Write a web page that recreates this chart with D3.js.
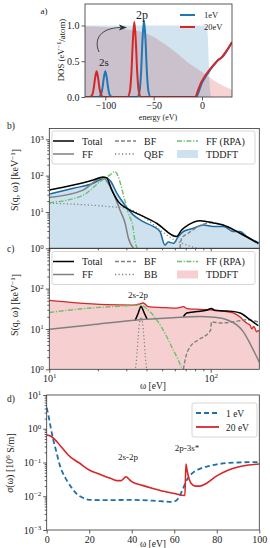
<!DOCTYPE html>
<html>
<head>
<meta charset="utf-8">
<script src="https://cdn.jsdelivr.net/npm/d3@7"></script>
<style>
  body { margin: 0; background: #fff; }
  svg { display: block; }
  text { font-family: "Liberation Serif", "DejaVu Serif", serif; fill: #222; }
</style>
</head>
<body>
<svg id="chart" width="270" height="548"></svg>
<script>
// ---------- panel a: DOS (energy eV, DOS) ----------
const dos1eV = [[-121,0],[-107,0],[-104.5,0.03],[-103,0.12],[-101.5,0.27],[-100,0.36],[-98.5,0.27],[-97,0.12],[-95.5,0.03],[-93,0],
  [-67,0],[-64.5,0.09],[-63,0.35],[-61.5,0.81],[-60,1.07],[-58.5,0.81],[-57,0.35],[-55.5,0.09],[-53,0],
  [-6,0],[-3,0.09],[0,0.2],[3,0.27],[6,0.33],[10,0.41],[14,0.48],[18,0.53],[21,0.56],[25,0.63],[28,0.7],[31,0.76]];
const dos20eV = [[-121,0],[-116,0],[-113.5,0.03],[-112,0.12],[-110.5,0.27],[-109,0.36],[-107.5,0.27],[-106,0.12],[-104.5,0.03],[-102,0],
  [-77,0],[-74.5,0.09],[-73,0.34],[-71.5,0.79],[-70,1.05],[-68.5,0.79],[-67,0.34],[-65.5,0.09],[-63,0],
  [-7,0],[-4,0.1],[-1,0.2],[2,0.27],[5,0.33],[9,0.4],[13,0.46],[17,0.52],[20,0.55],[24,0.62],[28,0.7],[31,0.77]];
const occ1eV = [[-121,1],[3,1],[5,0.97],[6,0.85],[7,0.5],[8,0.15],[9,0.03],[10,0],[31,0]];
const occ20eV = [[-121,0.99],[-100,0.98],[-75,0.94],[-60,0.9],[-50,0.84],[-37.5,0.73],[-25,0.6],[-12.5,0.46],[0,0.35],[15,0.21],[31,0.1]];
const aXTicks = [-100, -50, 0];
const aYTicks = [0, 0.5, 1.0];

// ---------- panel b: S(q,w) at 1 eV (omega eV, keV^-1) ----------
const bTotal = [[10,40],[14.1,55],[18.7,76],[21.5,92],[22.6,88],[24.4,40],[26.8,19],[30.2,12.6],[36.5,8.3],[46.2,4.9],[61.5,2.1],[66,3.2],[72.6,4.4],[86,5.75],[104,5],[126,4],[152,2.6],[197,1.37]];
const bTDDFT = [[10,31],[14.1,45],[18.7,62],[21,80],[22.5,88],[24,70],[26.2,33],[29.4,15.5],[33.1,8.3],[38.2,5.4],[44,4],[48.5,2.9],[52,1.23],[54.6,1.5],[58.6,1.37],[63,2.1],[67.7,2.9],[78,3.55],[90,4.4],[104,4],[120,4],[138,2.9],[152,2.9],[167,2.1],[193,1.5],[200,1.4]];
const bFF = [[10,25],[16.2,40],[20.6,85],[21.5,88],[23.8,50],[25.5,26],[27.4,11.3],[29.5,4.9],[30.9,1.9],[33.2,1]];
const bRPA = [[10,18],[16.2,29],[20.6,68],[23.8,105],[25.5,129],[27.4,68],[29,26],[30.9,9.2],[32.9,4],[34,1.5],[35.1,1]];
const bQBF = [[10,17.4],[16.2,15.9],[23.8,14],[30.2,12.6],[38.2,7.4],[48.5,3.2],[58.6,1.77],[71,1.23],[82,1]];
const bBF = [[64.5,1],[66,1.9],[72.6,2.6],[84,4],[99,5],[114,4.7],[138,3.2],[167,2.1],[197,1.3]];
const bYTicks = [1, 10, 100, 1000];

// ---------- panel c: S(q,w) at 20 eV ----------
const cTDDFT = [[10,51],[14.1,45],[22.7,40],[33,39],[36.5,42],[38.2,44],[41,36],[50,34],[58.6,33],[64,34],[67.7,36],[71,32],[80,31],[94,30],[105,29],[114,28],[125,27],[138,25],[152,19.7],[158,17],[163,15],[170,13.5],[175,12.6],[180,10],[184,11.5],[188,10.5],[192,8.5],[197,9.1],[200,8.8]];
const cTotalPeak = [[34,16],[35.6,25],[37,36],[38.7,25],[40.5,17]];
const cTotalHigh = [[67.7,20.4],[71,25],[82,27],[94,29],[101,32],[106,29],[126,28],[152,25],[175,17],[197,12]];
const cFF = [[10,9.9],[17.9,12.6],[36.5,17],[58.6,19],[86,20.4],[104,19.6],[126,17],[145,12.6],[159,8.6],[175,4.4],[188,2.5],[197,1.7],[200,1.5]];
const cRPA = [[10,25.6],[17.9,33],[28.8,37],[36.5,39],[42,27],[46.2,17],[52,7.9],[58.6,3],[63,1.7],[66,1.1],[67,1]];
const cBB = [[34,0.9],[34.8,2],[35.5,6],[36.2,14],[37,20],[37.8,14],[38.6,6],[39.4,2],[40.2,0.9]];
const cBF = [[67.7,1],[70,2],[74.5,3.6],[84,5.4],[96.6,7.9],[100,9.5],[101,15],[114,14],[138,15],[167,17],[197,15]];
const cYTicks = [1, 10, 100];
const bcXTicks = [10, 100];

// ---------- panel d: conductivity (omega eV, 1e6 S/m) ----------
const sig1eV = [[0,4.2],[1,2.2],[2,1],[3,0.5],[4.7,0.19],[6,0.09],[7.5,0.05],[9.4,0.03],[12,0.017],[14,0.012],[17,0.009],[20,0.0078],[30,0.0077],[40,0.0078],[50,0.0074],[59,0.0068],[61,0.0075],[62.5,0.01],[64,0.016],[65.6,0.028],[68,0.045],[72,0.065],[76,0.078],[80,0.088],[85,0.097],[90,0.1],[95,0.102],[100,0.102]];
const sig20eV = [[0,0.65],[2,0.6],[5,0.4],[7.5,0.26],[10,0.17],[12.5,0.125],[15,0.1],[20,0.06],[25,0.045],[30,0.034],[33,0.029],[35,0.029],[37,0.037],[37.5,0.038],[38.5,0.033],[40,0.027],[45,0.021],[50,0.017],[55,0.014],[60,0.012],[65,0.0105],[65.5,0.09],[66,0.06],[67,0.032],[68.5,0.022],[70,0.02],[72,0.02],[75,0.024],[80,0.04],[85,0.058],[90,0.074],[95,0.084],[100,0.09]];
const dXTicks = [0, 20, 40, 60, 80, 100];
const dYTicks = [1e-3, 1e-2, 1e-1, 1, 10];

// ---------- helpers ----------
const svg = d3.select("#chart");
const INK = "#333";
const BLUE = "#1f77b4", RED = "#d62728", GREEN = "#6cc06a", GRAY = "#808080";

function logMinor(lo, hi) {
  const out = [];
  for (let e = Math.floor(Math.log10(lo)); e <= Math.ceil(Math.log10(hi)); e++)
    for (let k = 2; k <= 9; k++) { const v = k * Math.pow(10, e); if (v > lo && v < hi) out.push(v); }
  return out;
}

function axis(kind, scale, pos, values, size, fmt, fs, pad) {
  const ax = (kind === "left" ? d3.axisLeft : d3.axisBottom)(scale)
    .tickValues(values).tickSize(size).tickSizeOuter(0).tickPadding(pad == null ? 2 : pad)
    .tickFormat(fmt || (() => ""));
  const g = svg.append("g")
    .attr("transform", kind === "left" ? `translate(${pos},0)` : `translate(0,${pos})`)
    .attr("font-family", null).attr("font-size", fs || 9)
    .call(ax);
  g.select(".domain").remove();
  g.selectAll("line").attr("stroke", INK).attr("stroke-width", 0.8);
  g.selectAll("text").attr("fill", "#222");
  return g;
}

function pow10(g) {
  g.selectAll(".tick text").each(function (d) {
    const t = d3.select(this), e = Math.round(Math.log10(d));
    t.text(null);
    t.append("tspan").text("10");
    t.append("tspan").attr("dy", "-0.5em").attr("font-size", "0.7em").text(e < 0 ? "\u2212" + (-e) : e);
  });
}

function frame(x0, y0, x1, y1, id) {
  svg.append("clipPath").attr("id", id).append("rect")
    .attr("x", x0).attr("y", y0).attr("width", x1 - x0).attr("height", y1 - y0);
  return svg.append("g").attr("clip-path", `url(#${id})`);
}
function border(x0, y0, x1, y1) {
  svg.append("rect").attr("x", x0).attr("y", y0).attr("width", x1 - x0).attr("height", y1 - y0)
    .attr("fill", "none").attr("stroke", INK).attr("stroke-width", 0.8);
}

function txt(x, y, s, opt) {
  opt = opt || {};
  return svg.append("text").attr("x", x).attr("y", y)
    .attr("font-size", opt.size || 9).attr("text-anchor", opt.anchor || "middle")
    .attr("transform", opt.rot ? `rotate(-90,${x},${y})` : null).text(s);
}

function drawLine(g, data, x, y, color, width, dash, curve) {
  g.append("path").datum(data)
    .attr("fill", "none").attr("stroke", color).attr("stroke-width", width)
    .attr("stroke-dasharray", dash || null).attr("stroke-linejoin", "round")
    .attr("d", d3.line().x(d => x(d[0])).y(d => y(d[1])).curve(curve || d3.curveMonotoneX));
}

// ================= panel a =================
const ax = d3.scaleLinear().domain([-121, 31]).range([85, 232]);
const ay = d3.scaleLinear().domain([0, 1.3]).range([97, 4]);
const ga = frame(85, 4, 232, 97, "clipA");
const occArea = d3.area().x(d => ax(d[0])).y0(ay(0)).y1(d => ay(d[1])).curve(d3.curveMonotoneX);
ga.append("path").datum(occ20eV).attr("d", occArea).attr("fill", RED).attr("fill-opacity", 0.2);
ga.append("path").datum(occ1eV).attr("d", occArea).attr("fill", BLUE).attr("fill-opacity", 0.2);
drawLine(ga, dos1eV, ax, ay, BLUE, 2);
drawLine(ga, dos20eV, ax, ay, RED, 2);
border(85, 4, 232, 97);
axis("bottom", ax, 97, aXTicks, 3.5, d => (d < 0 ? "\u2212" + (-d) : d), 8.5, 1);
axis("left", ay, 85, aYTicks, 3.5, d3.format(".1f"), 8.5);
txt(158, 119.5, "energy (eV)", { size: 8 });
const dl = svg.append("text").attr("x", 64).attr("y", 50).attr("font-size", 8.8)
  .attr("text-anchor", "middle").attr("transform", "rotate(-90,64,50)");
dl.append("tspan").text("DOS (eV");
dl.append("tspan").attr("dy", "-0.45em").attr("font-size", "0.7em").text("\u22121");
dl.append("tspan").attr("dy", "0.45em").text("/atom)");
txt(44, 14, "a)", { size: 9 });
txt(142, 19, "2p", { size: 12 });
txt(104, 66, "2s", { size: 11 });
svg.append("path").attr("d", "M99,52 C93,38 102,28 120,27.5")
  .attr("fill", "none").attr("stroke", INK).attr("stroke-width", 0.9);
svg.append("path").attr("d", "M127,27.5 L119,24.5 L120.5,27.5 L119,30.5 Z").attr("fill", INK);
[[BLUE, "1eV", 15], [RED, "20eV", 27]].forEach(([c, s, y]) => {
  svg.append("line").attr("x1", 180).attr("x2", 195).attr("y1", y).attr("y2", y)
    .attr("stroke", c).attr("stroke-width", 2);
  txt(204, y + 3, s, { size: 8.5, anchor: "start" });
});

// ================= panels b & c =================
const bcx = d3.scaleLog().domain([10, 200]).range([49.3, 259.3]);
const by = d3.scaleLog().domain([1, 2000]).range([248.3, 128.4]);
const cy = d3.scaleLog().domain([1, 1000]).range([369.3, 248.3]);

const gb = frame(49.3, 128.4, 259.3, 248.3, "clipB");
const bArea = d3.area().x(d => bcx(d[0])).y0(248.3).y1(d => by(d[1])).curve(d3.curveMonotoneX);
gb.append("path").datum(bTDDFT).attr("d", bArea).attr("fill", BLUE).attr("fill-opacity", 0.22);
drawLine(gb, bTDDFT, bcx, by, "#1c6aa3", 1.5);
drawLine(gb, bQBF, bcx, by, GRAY, 1.2, "1.2,2.3");
drawLine(gb, bBF, bcx, by, GRAY, 1.4, "4,2");
drawLine(gb, bFF, bcx, by, GRAY, 1.5);
drawLine(gb, bRPA, bcx, by, GREEN, 1.4, "5,1.6,1.2,1.6");
drawLine(gb, bTotal, bcx, by, "#000", 1.5);
border(49.3, 128.4, 259.3, 248.3);

const gc = frame(49.3, 248.3, 259.3, 369.3, "clipC");
const cArea = d3.area().x(d => bcx(d[0])).y0(369.3).y1(d => cy(d[1])).curve(d3.curveMonotoneX);
gc.append("path").datum(cTDDFT).attr("d", cArea).attr("fill", RED).attr("fill-opacity", 0.22);
drawLine(gc, cTDDFT, bcx, cy, RED, 1.3);
drawLine(gc, cBB, bcx, cy, GRAY, 1.2, "1.2,2.3");
drawLine(gc, cBF, bcx, cy, GRAY, 1.4, "4,2");
drawLine(gc, cRPA, bcx, cy, GREEN, 1.4, "5,1.6,1.2,1.6");
drawLine(gc, cTotalPeak, bcx, cy, "#000", 1.5);
drawLine(gc, cTotalHigh, bcx, cy, "#000", 1.5);
drawLine(gc, cFF, bcx, cy, GRAY, 1.5);
border(49.3, 248.3, 259.3, 369.3);

// axes b
axis("left", by, 49.3, logMinor(1, 2000), 2);
pow10(axis("left", by, 49.3, bYTicks, 3.5, d => d, 9.5));
axis("bottom", bcx, 248.3, logMinor(10, 200), 2);
axis("bottom", bcx, 248.3, bcXTicks, 3.5);
// axes c
axis("left", cy, 49.3, logMinor(1, 1000), 2);
pow10(axis("left", cy, 49.3, cYTicks, 3.5, d => d, 9.5));
axis("bottom", bcx, 369.3, logMinor(10, 200), 2);
pow10(axis("bottom", bcx, 369.3, bcXTicks, 3.5, d => d, 9.5));
txt(153, 388.5, "\u03c9 [eV]", { size: 9.5 });

function sLabel(x, y) {
  const t = svg.append("text").attr("x", x).attr("y", y).attr("font-size", 10)
    .attr("text-anchor", "middle").attr("transform", `rotate(-90,${x},${y})`);
  t.append("tspan").text("S(q, \u03c9) [keV");
  t.append("tspan").attr("dy", "-0.45em").attr("font-size", "0.7em").text("\u22121");
  t.append("tspan").attr("dy", "0.45em").text("]");
}
sLabel(18, 180);
sLabel(18, 305);
txt(7, 129, "b)", { size: 9.5, anchor: "start" });
txt(7, 252, "c)", { size: 9.5, anchor: "start" });
txt(138, 298, "2s-2p", { size: 9 });

function legend(y0, third, patch) {
  svg.append("rect").attr("x", 52).attr("y", y0).attr("width", 203).attr("height", 33).attr("rx", 2)
    .attr("fill", "#fff").attr("fill-opacity", 0.8).attr("stroke", "#ccc").attr("stroke-width", 0.8);
  const r1 = y0 + 10, r2 = y0 + 23;
  const items = [
    [53, r1, "#000", null, "Total"], [53, r2, GRAY, null, "FF"],
    [115, r1, GRAY, "4,2", "BF"], [115, r2, GRAY, "1.2,2.3", third],
    [177, r1, GREEN, "5,1.6,1.2,1.6", "FF (RPA)"]
  ];
  items.forEach(([x, y, c, dash, s]) => {
    svg.append("line").attr("x1", x).attr("x2", x + 21).attr("y1", y).attr("y2", y)
      .attr("stroke", c).attr("stroke-width", 1.5).attr("stroke-dasharray", dash);
    txt(x + 29, y + 3.5, s, { size: 10, anchor: "start" });
  });
  svg.append("rect").attr("x", 177).attr("y", r2 - 4).attr("width", 21).attr("height", 8)
    .attr("fill", patch).attr("fill-opacity", 0.22);
  txt(206, r2 + 3.5, "TDDFT", { size: 10, anchor: "start" });
}
legend(131, "QBF", BLUE);
legend(251.5, "BB", RED);

// ================= panel d =================
const dx = d3.scaleLinear().domain([0, 100]).range([46.7, 259.3]);
const dy = d3.scaleLog().domain([1e-3, 10]).range([530, 395]);
const gd = frame(46.7, 395, 259.3, 530, "clipD");
drawLine(gd, sig1eV, dx, dy, "#1f6fae", 1.8, "5,3");
drawLine(gd, sig20eV, dx, dy, RED, 1.6);
border(46.7, 395, 259.3, 530);
axis("left", dy, 46.7, logMinor(1e-3, 10), 2);
pow10(axis("left", dy, 46.7, dYTicks, 3.5, d => d, 9.5));
axis("bottom", dx, 530, dXTicks, 3.5, d => d, 9.5);
txt(153, 547, "\u03c9 [eV]", { size: 9.5 });
const sl = svg.append("text").attr("x", 13).attr("y", 463).attr("font-size", 10)
  .attr("text-anchor", "middle").attr("transform", "rotate(-90,13,463)");
sl.append("tspan").attr("font-style", "italic").text("\u03c3");
sl.append("tspan").text("(\u03c9) [10");
sl.append("tspan").attr("dy", "-0.45em").attr("font-size", "0.7em").text("6");
sl.append("tspan").attr("dy", "0.45em").text(" S/m]");
txt(7, 402, "d)", { size: 9.5, anchor: "start" });
txt(128, 460, "2s-2p", { size: 9 });
txt(187, 451, "2p-3s*", { size: 9 });
svg.append("rect").attr("x", 192).attr("y", 403).attr("width", 65).attr("height", 34).attr("rx", 2)
  .attr("fill", "#fff").attr("fill-opacity", 0.8).attr("stroke", "#ccc").attr("stroke-width", 0.8);
[["#1f6fae", "5,3", "1 eV", 413], [RED, null, "20 eV", 427]].forEach(([c, dash, s, y]) => {
  svg.append("line").attr("x1", 196).attr("x2", 219).attr("y1", y).attr("y2", y)
    .attr("stroke", c).attr("stroke-width", 1.8).attr("stroke-dasharray", dash);
  txt(226, y + 3.5, s, { size: 9.5, anchor: "start" });
});
</script>
</body>
</html>
